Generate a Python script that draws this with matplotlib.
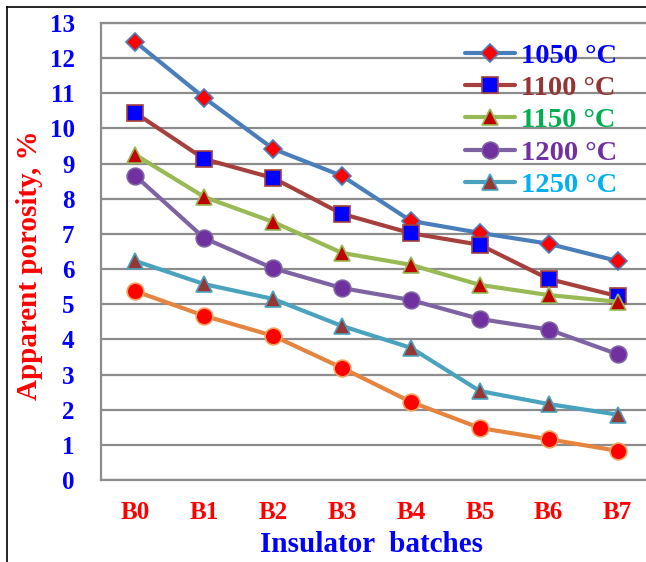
import matplotlib
matplotlib.use("Agg")
import matplotlib.pyplot as plt

batches = ["B0", "B1", "B2", "B3", "B4", "B5", "B6", "B7"]
s1050 = [12.46, 10.87, 9.42, 8.65, 7.37, 7.03, 6.72, 6.23]
s1100 = [10.44, 9.13, 8.59, 7.57, 7.02, 6.69, 5.72, 5.23]
s1150 = [9.25, 8.05, 7.34, 6.46, 6.12, 5.55, 5.26, 5.07]
s1200 = [8.65, 6.88, 6.02, 5.46, 5.12, 4.58, 4.28, 3.58]
s1250 = [6.23, 5.57, 5.15, 4.38, 3.76, 2.53, 2.16, 1.86]
s_extra = [5.37, 4.67, 4.10, 3.19, 2.22, 1.48, 1.16, 0.83]
labels = ["1050 °C", "1100 °C", "1150 °C", "1200 °C", "1250 °C"]
yticks = list(range(0, 14))

plt.rcParams['font.family'] = ['Liberation Serif', 'DejaVu Serif']

fig = plt.figure(figsize=(6.46, 5.62), dpi=100)
W, H = 646, 562
ax = fig.add_axes([101 / W, 1 - 480 / H, (652 - 101) / W, (480 - 23) / H])

x = list(range(len(batches)))
styles = [
    (s1050, '#4A7EBB', 'D', 'red', '#4A7EBB', 9),
    (s1100, '#A6403C', 's', 'blue', '#A6403C', 11.5),
    (s1150, '#98B954', '^', '#C00000', '#98B954', 11),
    (s1200, '#7E63A3', 'o', '#7030A0', '#7E63A3', 12),
    (s1250, '#4AA3BE', '^', '#953735', '#4AA3BE', 11),
    (s_extra, '#E5843E', 'o', 'red', '#F2A05A', 12),
]
handles = []
for data, lc, mk, mfc, mec, ms in styles:
    h, = ax.plot(x, data, color=lc, lw=3.0, marker=mk, markersize=ms,
                 markerfacecolor=mfc, markeredgecolor=mec, markeredgewidth=1.2,
                 solid_capstyle='round', zorder=3)
    handles.append(h)

ax.set_xlim(-0.5, 7.5)
ax.set_ylim(0, 13)
ax.set_yticks(yticks)
ax.set_yticklabels([str(t) for t in yticks])
ax.set_xticks(x)
ax.set_xticklabels(batches)
ax.grid(axis='y', color='#8C8C8C', lw=1.6)
ax.set_axisbelow(True)
for s in ax.spines.values():
    s.set_color('#8C8C8C')
    s.set_linewidth(1.6)
ax.spines['right'].set_visible(False)
ax.tick_params(axis='both', length=0)
ax.tick_params(axis='y', pad=19, labelsize=18, labelcolor='blue')
ax.tick_params(axis='x', pad=15, labelsize=18, labelcolor='red')
for lab in ax.get_yticklabels() + ax.get_xticklabels():
    lab.set_fontweight('bold')

fig.text(371 / W, 1 - 545 / H, 'Insulator  batches', color='blue', fontsize=21,
         fontweight='bold', ha='center', va='center')
fig.text(30 / W, 1 - 265 / H, 'Apparent porosity, %', color='red', fontsize=21,
         fontweight='bold', ha='center', va='center', rotation=90)

leg_colors = ['blue', '#943634', '#00B050', '#7030A0', '#00B0F0']
leg = ax.legend(handles[:5], labels, loc='upper left',
                bbox_to_anchor=((465 - 101) / (652 - 101), 1 - (43 - 23) / (480 - 23)),
                frameon=False, fontsize=20.5, handlelength=1.75, handletextpad=0.2,
                labelspacing=0.22, borderpad=0, borderaxespad=0)
for t, c in zip(leg.get_texts(), leg_colors):
    t.set_color(c)
    t.set_fontweight('bold')

# figure border (left and top visible)
fig.add_artist(plt.Line2D([7 / W, 7 / W], [0, 1 - 7 / H], color='black', lw=1.2))
fig.add_artist(plt.Line2D([7 / W, 1], [1 - 7 / H, 1 - 7 / H], color='black', lw=1.2))

fig.savefig('out.png', dpi=100)
